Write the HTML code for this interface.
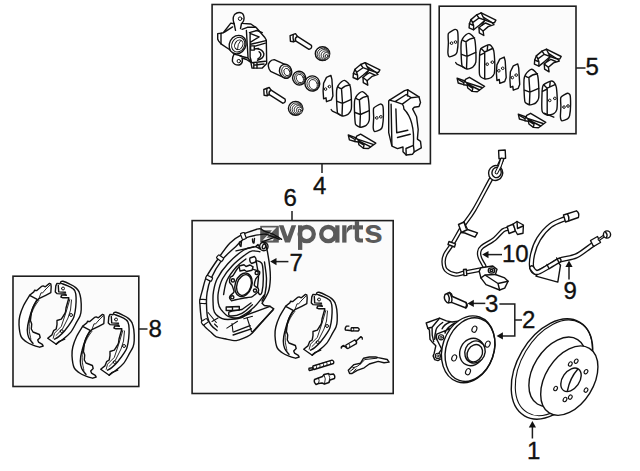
<!DOCTYPE html>
<html><head><meta charset="utf-8"><style>
html,body{margin:0;padding:0;background:#fff;width:640px;height:471px;overflow:hidden}
svg{display:block}
text{font-family:"Liberation Sans",sans-serif}
</style></head><body>
<svg width="640" height="471" viewBox="0 0 640 471">
<g fill="#fbfbfb" stroke="#1e1e1e" stroke-width="1.6">
<rect x="212.1" y="4.5" width="218.3" height="159.2"/>
<rect x="439.2" y="6.2" width="136.8" height="127.5"/>
<rect x="192.1" y="220.6" width="201.1" height="172.9"/>
<rect x="13" y="276.2" width="125.8" height="110.3"/>
</g>
<g stroke="#1e1e1e" stroke-width="1.5" fill="none">
<path d="M322 164V173"/>
<path d="M576 68H585.5"/>
<path d="M292 211V220.5"/>
<path d="M139 329H147.5"/>
<path d="M276 261.6H288.4"/>
<path d="M488 254.6H502"/>
<path d="M569 266V279.4"/>
<path d="M473 303.4H485.3"/>
<path d="M499.4 304H514.8V335.9H502"/>
<path d="M514.8 320H522"/>
<path d="M532.4 427V438.5"/>
</g>
<g fill="#111">
<path d="M270.2 261.6L276.5 258L276.5 265.2Z"/>
<path d="M482.2 254.6L488.5 251L488.5 258.2Z"/>
<path d="M569 260.6L565.4 267L572.6 267Z"/>
<path d="M467.5 303.4L473.8 299.8L473.8 307Z"/>
<path d="M496.6 335.9L502.9 332.3L502.9 339.5Z"/>
<path d="M532.4 421.1L528.8 427.5L536 427.5Z"/>
</g>
<g fill="#5a5a5a">
<rect x="260.2" y="225.8" width="18.6" height="16.8"/>
<path d="M278.8,225.3 L283.5,225.3 L287.5,236.5 L291.5,225.3 L296.2,225.3 L290,242.6 L285,242.6 Z"/>
<rect x="298" y="225.3" width="4.3" height="24.6"/>
<circle cx="306.7" cy="234.1" r="7.1" fill="none" stroke="#5a5a5a" stroke-width="4.3"/>
<circle cx="328.3" cy="234.1" r="7.1" fill="none" stroke="#5a5a5a" stroke-width="4.3"/>
<rect x="335.2" y="225.3" width="4.3" height="17.3"/>
<rect x="342.2" y="225.3" width="4.3" height="17.3"/>
<path d="M346.5,231 Q347,224.8 352.3,224.8 L352.3,229.2 Q348.5,229.2 346.5,234 Z"/>
<path d="M354.8,220.9 L359.1,220.9 L359.1,237 Q359.1,238.5 361,238.5 L363,238.5 L363,242.6 L360,242.6 Q354.8,242.6 354.8,237.5 Z"/>
<rect x="352.6" y="225.3" width="10.4" height="4.2"/>
<text x="364" y="242.8" font-size="34" font-weight="bold" font-family="Liberation Sans">s</text>
</g>
<path d="M262,227.6 L276.5,227.6 L266.5,237.8 L274,237.8 L273,240.5 L262.5,240.5 L272,230.2 L262,230.2 Z" fill="#fff" fill-opacity="0.92"/>
<g id="parts" fill="#fff" stroke="#111" stroke-width="1.4" stroke-linejoin="round" stroke-linecap="round">
<ellipse cx="322.5" cy="53.7" rx="7.2" ry="6.9"/>
<ellipse stroke-width="0.85" cx="323.3" cy="54.2" rx="6.2" ry="6.0"/>
<ellipse stroke-width="0.85" cx="324.2" cy="54.7" rx="5.25" ry="5.2"/>
<ellipse stroke-width="0.85" cx="325.3" cy="55.2" rx="4.2" ry="4.3"/>
<ellipse stroke-width="0.85" cx="326.4" cy="55.7" rx="3.1" ry="3.3"/>
<circle fill="none" stroke-width="1" cx="326.6" cy="56.1" r="1.5"/>
<ellipse cx="295.6" cy="108.3" rx="7.2" ry="6.9"/>
<ellipse stroke-width="0.85" cx="296.4" cy="108.8" rx="6.2" ry="6.0"/>
<ellipse stroke-width="0.85" cx="297.4" cy="109.3" rx="5.25" ry="5.2"/>
<ellipse stroke-width="0.85" cx="298.4" cy="109.8" rx="4.2" ry="4.3"/>
<ellipse stroke-width="0.85" cx="299.5" cy="110.3" rx="3.1" ry="3.3"/>
<circle fill="none" stroke-width="1" cx="299.7" cy="110.7" r="1.5"/>
<path fill="none" stroke-width="1.4" d="M281.5,239.3 C280.6,238.7 275.4,235.2 273.5,234.3 C271.6,233.4 266.4,232.0 264.9,231.4 C263.4,230.8 261.4,229.2 260.5,228.9 C259.6,228.6 259.1,228.5 256.9,229.2 C254.7,229.9 244.9,233.0 241.8,234.6 C238.7,236.2 232.5,240.5 230.0,243.0 C227.5,245.5 222.7,252.1 220.0,256.0 C217.3,259.9 208.7,272.5 206.6,276.5 C204.5,280.5 203.2,287.5 202.4,290.3 C201.6,293.1 200.1,297.7 199.9,300.2 C199.7,302.7 200.3,309.5 200.5,312.0 C200.7,314.5 201.4,319.6 201.9,321.3 C202.4,323.0 203.9,325.6 205.0,326.9 C206.1,328.2 210.0,331.3 211.3,332.5 C212.6,333.7 214.7,336.2 216.3,336.9 C217.9,337.6 222.7,338.4 225.0,338.8 C227.3,339.2 233.4,341.0 236.3,340.6 C239.2,340.2 247.0,337.2 250.0,335.0 C253.0,332.8 259.2,325.1 262.0,322.0 C264.8,318.9 272.4,310.3 273.8,308.8 L270,306.3 L264.3,305.5 L262,303.3  C263.1,301.4 267.0,295.8 268.4,291.8 C269.8,287.8 270.1,283.3 270.3,279.1 C270.5,274.9 270.2,270.9 269.7,266.4 C269.2,261.9 267.9,254.4 267.5,252.0 L265.5,244 L262,241.9 L277.2,236.4 Z"/>
<path fill="none" d="M279.3,239.3 C278.1,238.8 274.3,237.2 272.1,236.4 C269.9,235.6 268.4,234.6 266.3,234.3 C264.2,234.0 263.3,233.9 259.8,234.6 C256.3,235.2 249.7,236.0 245.4,238.2 C241.1,240.4 238.2,244.3 234.2,248.0 C230.2,251.7 225.4,255.5 221.5,260.6 C217.6,265.7 213.3,273.4 210.9,278.7 C208.5,284.0 207.8,288.3 207.1,292.5 C206.4,296.7 206.4,299.9 206.5,304.0 C206.6,308.1 206.8,313.5 207.5,317.0 C208.2,320.5 209.4,322.8 211.0,325.0 C212.6,327.2 216.0,329.6 217.0,330.5"/>
<path stroke-width="1.2" d="M244.1,232.5 C243.8,232.2 240.6,233.4 240.5,233.8 C240.4,234.1 242.3,239.4 242.6,239.6 C242.9,239.8 246.1,238.7 246.2,238.3 C246.2,237.9 244.3,232.7 244.1,232.5Z"/>
<path stroke-width="1.2" d="M218.9,254.8 C218.5,254.7 216.4,257.4 216.5,257.8 C216.6,258.1 221.0,261.6 221.3,261.6 C221.7,261.6 223.8,259.0 223.7,258.6 C223.6,258.3 219.2,254.8 218.9,254.8Z"/>
<path stroke-width="1.2" d="M207.1,275.3 C206.7,275.3 205.3,278.4 205.5,278.7 C205.7,279.0 210.7,281.3 211.0,281.3 C211.4,281.3 212.8,278.2 212.6,277.9 C212.4,277.6 207.4,275.2 207.1,275.3Z"/>
<path stroke-width="1.2" d="M200.0,299.4 C199.7,299.6 199.5,303.0 199.8,303.2 C200.1,303.4 205.7,303.7 206.0,303.5 C206.3,303.4 206.5,299.9 206.2,299.7 C205.9,299.5 200.3,299.2 200.0,299.4Z"/>
<path stroke-width="1.2" d="M201.2,321.9 C201.0,322.2 202.9,325.1 203.3,325.1 C203.6,325.0 208.3,322.0 208.4,321.6 C208.6,321.3 206.7,318.5 206.3,318.5 C206.0,318.5 201.3,321.6 201.2,321.9Z"/>
<path fill="none" d="M239.5,242 Q239.5,246.5 241,246.5 L241.5,241 M252.5,239 Q252.5,243.5 254,243 L254.5,238.5 M236,250.9 L254,246.9"/>
<path fill="none" d="M255.7,246.6 C253.7,247.2 248.5,247.1 243.8,250.0 C239.2,252.9 232.2,259.0 227.8,263.8 C223.4,268.6 219.6,274.1 217.2,278.7 C214.8,283.3 214.2,287.3 213.5,291.4 C212.8,295.4 212.9,299.6 213.1,303.0 C213.2,306.4 212.9,309.5 214.4,312.1 C215.9,314.7 219.4,317.4 222.2,318.6 C225.0,319.8 227.9,319.6 231.4,319.3 C234.9,319.0 239.7,318.4 243.0,317.0 C246.3,315.6 249.8,311.8 251.1,310.7"/>
<path fill="none" d="M259.9,251.7 C258.6,251.6 254.6,250.5 252.3,250.9 C250.0,251.3 249.3,251.7 245.9,254.2 C242.5,256.7 236.0,261.8 232.1,265.9 C228.2,270.0 224.8,274.3 222.5,278.7 C220.2,283.1 219.0,288.4 218.3,292.5 C217.6,296.6 217.9,300.2 218.3,303.0 C218.7,305.8 219.2,307.1 220.9,309.4 C222.7,311.7 225.7,315.4 228.8,316.7 C231.9,318.0 235.2,318.8 239.3,317.3 C243.5,315.8 249.5,311.2 253.7,307.5 C257.9,303.8 262.5,297.1 264.3,295.0"/>
<path fill="none" d="M245.9,259.0 C244.3,260.3 239.5,263.4 236.3,267.0 C233.1,270.6 228.9,276.2 226.8,280.8 C224.7,285.4 224.1,292.3 223.6,294.6"/>
<path fill="none" d="M256.0,260.5 C257.0,261.1 260.8,260.7 262.0,263.8 C263.2,266.9 263.3,274.4 263.3,279.1 C263.3,283.8 262.6,289.2 262.0,291.8 C261.4,294.4 260.2,295.0 259.5,294.4 C258.8,293.8 257.8,291.1 257.6,288.0 C257.4,284.9 258.6,279.7 258.5,276.0 C258.4,272.3 257.4,268.6 257.0,266.0 C256.6,263.4 256.2,261.4 256.0,260.5"/>
<path fill="none" d="M264.5,262.0 C264.8,264.8 266.4,273.7 266.5,279.0 C266.6,284.3 265.8,290.3 265.0,294.0 C264.2,297.7 262.5,299.8 262.0,301.0"/>
<path d="M239.1,267.0 C240.7,266.4 250.4,268.6 251.8,268.9 C253.2,269.2 255.4,270.0 256.0,270.2 C256.6,270.4 259.2,271.2 259.5,271.5 C259.8,271.8 259.6,273.6 259.5,274.0 C259.4,274.4 258.5,275.4 258.2,275.8 C257.9,276.2 256.0,278.3 255.7,279.1 C255.4,279.9 254.2,284.7 254.4,285.5 C254.6,286.3 257.9,288.0 258.2,288.5 C258.5,289.0 258.4,291.1 258.2,291.5 C258.0,291.9 256.7,293.1 256.2,293.5 C255.7,293.9 252.9,296.5 251.8,296.9 C250.7,297.3 244.3,297.9 242.9,298.2 C241.5,298.5 235.5,299.8 234.6,300.0 C233.7,300.2 231.9,301.0 231.5,300.8 C231.1,300.6 229.7,298.4 229.6,298.0 C229.5,297.6 230.1,296.0 230.5,295.5 C230.9,295.0 233.9,292.6 234.0,291.8 C234.1,291.0 232.5,286.3 232.1,285.5 C231.7,284.7 229.8,283.0 229.6,282.3 C229.4,281.6 229.9,278.1 230.2,277.5 C230.5,276.9 232.3,276.4 233.0,275.5 C233.7,274.6 237.5,267.6 239.1,267.0Z"/>
<ellipse cx="243.5" cy="284.8" rx="8.3" ry="12.1" transform="rotate(18 243.5 284.8)"/>
<ellipse fill="none" cx="244" cy="285" rx="7" ry="10.6" transform="rotate(18 244 285)"/>
<circle fill="none" cx="232.9" cy="280.4" r="1.6"/>
<circle fill="none" cx="256.7" cy="272.9" r="1.6"/>
<circle fill="none" cx="255" cy="290.6" r="1.6"/>
<circle fill="none" cx="232.3" cy="297.3" r="1.6"/>
<path d="M239.1,266 L244,264.8 L246,266.5 L250,265 L253.1,266.8 L252,270.2 L246.5,271.5 L244.5,270 L240,271 Z"/>
<path d="M250,258 L254.5,256.5 Q257,258.5 255.5,262 L251.5,263.5 Q249,261.5 250,258 Z"/>
<path d="M226.2,307 L239.3,306.5 L239.3,310.1 L226.2,310.5 Z M232.5,306.7 L232.5,310.3"/>
<path fill="none" d="M228.8,312.1 C229.0,312.8 227.9,315.8 230.1,316.0 C232.3,316.2 238.2,315.3 241.9,313.4 C245.6,311.5 250.7,306.2 252.4,304.8 M228.8,312.1 L232,311 L242,309.5 L251,303"/>
<path fill="none" stroke-width="1.1" d="M208.1,312.5 L216.3,322.5 M212,321.5 L218,318 M214.5,324 L217.5,327 M226.9,328.1 L237.5,321.3 M232,323.5 L233,332 M243.8,318.8 L252.5,316.3 M247,317.5 L251.5,331.5"/>
<path fill="none" d="M241.3,316.9 L270,306.3 M233.8,331.9 L250,325.6 M233.1,335 L251.3,328.8 M252.5,331.9 L273,310"/>
<circle fill="none" cx="263.8" cy="246.5" r="4.2"/><ellipse fill="none" cx="264" cy="246.5" rx="1.6" ry="2.4" transform="rotate(20 264 246.5)"/>
<path fill="none" d="M255.7,246.6 L258,244.5 L260.5,249 Z"/>
<path d="M29.6,295.3 C28.6,297.0 25.2,302.1 23.6,305.5 C22.0,308.9 20.6,312.8 19.8,316.0 C19.0,319.2 18.8,321.3 19.0,324.7 C19.2,328.1 19.9,333.8 21.1,336.6 C22.3,339.4 24.2,340.3 26.2,341.7 C28.2,343.1 30.7,344.2 33.0,345.1 C35.3,346.0 38.7,346.9 39.8,347.2 L43.2,346 L42.3,344.3 L38.5,342.1 L37.7,340 L40.2,337.5 L39.4,334.5 L33,332 L31.3,329 L31.7,323.9 L30.4,320.5  C30.7,318.8 31.0,313.2 32.0,310.0 C33.0,306.8 35.7,302.7 36.4,301.2 L38.9,298.7 L45.7,295.3 L50.8,292.7 L51.2,286.8 L50.8,283.8 L49.5,283.4 L45.3,286.8 L43.2,285.9 L41.5,286.4 L36.8,290.6 L34.7,290.2 L33.8,291.9 Z"/>
<path fill="none" d="M29.6,295.3 L37.2,299.3 M37.2,299.5 C36.5,300.8 34.4,303.8 33.0,307.2 C31.6,310.6 29.8,316.2 28.9,320.0 C27.9,323.8 27.3,327.1 27.3,330.0 C27.3,332.9 27.8,335.3 28.7,337.5 C29.6,339.7 32.3,342.4 33.0,343.4"/>
<path fill="none" stroke-width="0.9" d="M38.9,300.4 C38.1,301.5 35.8,304.3 34.3,307.2 C32.8,310.1 30.9,314.4 30.0,318.0 C29.1,321.6 29.1,325.5 29.2,329.0 C29.3,332.5 30.6,337.5 30.9,339.2 M45.7,289.3 L42.5,293 L41,292.8 L38.9,298.7 M50,285.1 L45.7,289.3"/>
<path d="M60.9,281.7 C61.2,281.6 61.5,280.9 63.0,281.3 C64.5,281.7 67.7,283.1 69.8,284.2 C71.9,285.2 74.2,286.3 75.7,287.6 C77.2,288.9 78.2,290.0 79.1,291.9 C79.9,293.8 80.4,295.7 80.8,298.7 C81.2,301.7 81.3,306.8 81.2,309.7 C81.1,312.6 80.8,313.9 80.0,316.0 C79.2,318.1 78.2,319.5 76.6,322.2 C75.0,324.9 72.9,329.6 70.6,332.4 C68.3,335.2 65.3,337.4 63.0,339.2 C60.7,341.0 58.0,342.7 57.0,343.4 L56.2,344.3 L47.7,338.3 L51.9,334.9 L53.6,330.7 L56.2,329 L57,324.7 L57,320.5 L61.3,319.2 L64.3,314.5 L65.5,312 L66,308 L68.9,297.8 L63,297.8 L60.9,297 L61.7,294.9 L66.4,295.3 L65.5,294 L57,293.6 L55.3,291.9 L55.8,285.9 L57,283.4 L60,283.8 Z"/>
<path fill="none" d="M61.3,283.4 C62.8,284.0 68.3,285.9 70.6,287.2 C72.9,288.5 74.0,289.2 74.9,291.0 C75.8,292.8 76.0,295.1 76.1,297.8 C76.2,300.5 76.0,304.1 75.7,307.2 C75.4,310.3 74.7,314.1 74.0,316.5 C73.3,318.9 73.0,318.9 71.5,321.3 C70.0,323.7 66.8,328.1 64.7,330.7 C62.6,333.2 60.4,335.2 58.7,336.6 C57.0,338.0 55.2,338.8 54.5,339.2 M58.3,285.5 L58.7,291.9 L65.5,292.3 M56.2,344.3 L58.7,341.7 L64.7,339.2"/>
<path fill="none" stroke-width="0.9" d="M69.8,299.5 L66,312.3 L61.3,326.4 L54.5,333.2 L53.2,338.3 M71.5,300 L70.5,310 L68,318 L62.5,329 L56,335.5"/>
<path fill="none" stroke-width="1" d="M61.5,288.5 A1.5 1.5 0 1 0 64.5,288.5 A1.5 1.5 0 1 0 61.5,288.5"/>
<path fill="none" stroke-width="1" d="M69.5,315.0 A1.5 1.5 0 1 0 72.5,315.0 A1.5 1.5 0 1 0 69.5,315.0"/>
<path fill="none" stroke-width="1" d="M60.2,331.1 A1.5 1.5 0 1 0 63.2,331.1 A1.5 1.5 0 1 0 60.2,331.1"/>
<path d="M285.6,306.3 C284.6,308.0 281.2,313.1 279.6,316.5 C278.0,319.9 276.6,323.8 275.8,327.0 C275.0,330.2 274.8,332.3 275.0,335.7 C275.2,339.1 275.9,344.8 277.1,347.6 C278.3,350.4 280.2,351.3 282.2,352.7 C284.2,354.1 286.7,355.2 289.0,356.1 C291.3,357.0 294.7,357.9 295.8,358.2 L299.2,357.0 L298.3,355.3 L294.5,353.1 L293.7,351.0 L296.2,348.5 L295.4,345.5 L289.0,343.0 L287.3,340.0 L287.7,334.9 L286.4,331.5  C286.7,329.8 287.0,324.2 288.0,321.0 C289.0,317.8 291.7,313.7 292.4,312.2 L294.9,309.7 L301.7,306.3 L306.8,303.7 L307.2,297.8 L306.8,294.8 L305.5,294.4 L301.3,297.8 L299.2,296.9 L297.5,297.4 L292.8,301.6 L290.7,301.2 L289.8,302.9 Z"/>
<path fill="none" d="M285.6,306.3 L293.2,310.3 M293.2,310.5 C292.5,311.8 290.4,314.8 289.0,318.2 C287.6,321.6 285.8,327.2 284.9,331.0 C283.9,334.8 283.3,338.1 283.3,341.0 C283.3,343.9 283.8,346.3 284.7,348.5 C285.6,350.7 288.3,353.4 289.0,354.4"/>
<path fill="none" stroke-width="0.9" d="M294.9,311.4 C294.1,312.5 291.8,315.3 290.3,318.2 C288.8,321.1 286.9,325.4 286.0,329.0 C285.1,332.6 285.1,336.5 285.2,340.0 C285.3,343.5 286.6,348.5 286.9,350.2 M301.7,300.3 L298.5,304.0 L297.0,303.8 L294.9,309.7 M306.0,296.1 L301.7,300.3"/>
<path d="M316.9,292.7 C317.2,292.6 317.5,291.9 319.0,292.3 C320.5,292.7 323.7,294.1 325.8,295.2 C327.9,296.2 330.2,297.3 331.7,298.6 C333.2,299.9 334.2,301.0 335.1,302.9 C335.9,304.8 336.4,306.7 336.8,309.7 C337.2,312.7 337.3,317.8 337.2,320.7 C337.1,323.6 336.8,324.9 336.0,327.0 C335.2,329.1 334.2,330.5 332.6,333.2 C331.0,335.9 328.9,340.6 326.6,343.4 C324.3,346.2 321.3,348.4 319.0,350.2 C316.7,352.0 314.0,353.7 313.0,354.4 L312.2,355.3 L303.7,349.3 L307.9,345.9 L309.6,341.7 L312.2,340.0 L313.0,335.7 L313.0,331.5 L317.3,330.2 L320.3,325.5 L321.5,323.0 L322.0,319.0 L324.9,308.8 L319.0,308.8 L316.9,308.0 L317.7,305.9 L322.4,306.3 L321.5,305.0 L313.0,304.6 L311.3,302.9 L311.8,296.9 L313.0,294.4 L316.0,294.8 Z"/>
<path fill="none" d="M317.3,294.4 C318.8,295.0 324.3,296.9 326.6,298.2 C328.9,299.5 330.0,300.2 330.9,302.0 C331.8,303.8 332.0,306.1 332.1,308.8 C332.2,311.5 332.0,315.1 331.7,318.2 C331.4,321.3 330.7,325.1 330.0,327.5 C329.3,329.9 329.0,329.9 327.5,332.3 C326.0,334.7 322.8,339.1 320.7,341.7 C318.6,344.2 316.4,346.2 314.7,347.6 C313.0,349.0 311.2,349.8 310.5,350.2 M314.3,296.5 L314.7,302.9 L321.5,303.3 M312.2,355.3 L314.7,352.7 L320.7,350.2"/>
<path fill="none" stroke-width="0.9" d="M325.8,310.5 L322.0,323.3 L317.3,337.4 L310.5,344.2 L309.2,349.3 M327.5,311.0 L326.5,321.0 L324.0,329.0 L318.5,340.0 L312.0,346.5"/>
<path fill="none" stroke-width="1" d="M317.5,299.5 A1.5 1.5 0 1 0 320.5,299.5 A1.5 1.5 0 1 0 317.5,299.5"/>
<path fill="none" stroke-width="1" d="M325.5,326.0 A1.5 1.5 0 1 0 328.5,326.0 A1.5 1.5 0 1 0 325.5,326.0"/>
<path fill="none" stroke-width="1" d="M316.2,342.1 A1.5 1.5 0 1 0 319.2,342.1 A1.5 1.5 0 1 0 316.2,342.1"/>
<path d="M82.6,326.3 C81.6,328.0 78.2,333.1 76.6,336.5 C75.0,339.9 73.6,343.8 72.8,347.0 C72.0,350.2 71.8,352.3 72.0,355.7 C72.2,359.1 72.9,364.8 74.1,367.6 C75.3,370.4 77.2,371.3 79.2,372.7 C81.2,374.1 83.7,375.2 86.0,376.1 C88.3,377.0 91.7,377.9 92.8,378.2 L96.2,377.0 L95.3,375.3 L91.5,373.1 L90.7,371.0 L93.2,368.5 L92.4,365.5 L86.0,363.0 L84.3,360.0 L84.7,354.9 L83.4,351.5  C83.7,349.8 84.0,344.2 85.0,341.0 C86.0,337.8 88.7,333.7 89.4,332.2 L91.9,329.7 L98.7,326.3 L103.8,323.7 L104.2,317.8 L103.8,314.8 L102.5,314.4 L98.3,317.8 L96.2,316.9 L94.5,317.4 L89.8,321.6 L87.7,321.2 L86.8,322.9 Z"/>
<path fill="none" d="M82.6,326.3 L90.2,330.3 M90.2,330.5 C89.5,331.8 87.4,334.8 86.0,338.2 C84.6,341.6 82.8,347.2 81.9,351.0 C80.9,354.8 80.3,358.1 80.3,361.0 C80.3,363.9 80.8,366.3 81.7,368.5 C82.6,370.7 85.3,373.4 86.0,374.4"/>
<path fill="none" stroke-width="0.9" d="M91.9,331.4 C91.1,332.5 88.8,335.3 87.3,338.2 C85.8,341.1 83.9,345.4 83.0,349.0 C82.1,352.6 82.1,356.5 82.2,360.0 C82.3,363.5 83.6,368.5 83.9,370.2 M98.7,320.3 L95.5,324.0 L94.0,323.8 L91.9,329.7 M103.0,316.1 L98.7,320.3"/>
<path d="M113.9,312.7 C114.2,312.6 114.5,311.9 116.0,312.3 C117.5,312.7 120.7,314.1 122.8,315.2 C124.9,316.2 127.2,317.3 128.7,318.6 C130.2,319.9 131.2,321.0 132.1,322.9 C132.9,324.8 133.4,326.7 133.8,329.7 C134.2,332.7 134.3,337.8 134.2,340.7 C134.1,343.6 133.8,344.9 133.0,347.0 C132.2,349.1 131.2,350.5 129.6,353.2 C128.0,355.9 125.9,360.6 123.6,363.4 C121.3,366.2 118.3,368.4 116.0,370.2 C113.7,372.0 111.0,373.7 110.0,374.4 L109.2,375.3 L100.7,369.3 L104.9,365.9 L106.6,361.7 L109.2,360.0 L110.0,355.7 L110.0,351.5 L114.3,350.2 L117.3,345.5 L118.5,343.0 L119.0,339.0 L121.9,328.8 L116.0,328.8 L113.9,328.0 L114.7,325.9 L119.4,326.3 L118.5,325.0 L110.0,324.6 L108.3,322.9 L108.8,316.9 L110.0,314.4 L113.0,314.8 Z"/>
<path fill="none" d="M114.3,314.4 C115.8,315.0 121.3,316.9 123.6,318.2 C125.9,319.5 127.0,320.2 127.9,322.0 C128.8,323.8 129.0,326.1 129.1,328.8 C129.2,331.5 129.0,335.1 128.7,338.2 C128.4,341.3 127.7,345.1 127.0,347.5 C126.3,349.9 126.0,349.9 124.5,352.3 C123.0,354.7 119.8,359.1 117.7,361.7 C115.6,364.2 113.4,366.2 111.7,367.6 C110.0,369.0 108.2,369.8 107.5,370.2 M111.3,316.5 L111.7,322.9 L118.5,323.3 M109.2,375.3 L111.7,372.7 L117.7,370.2"/>
<path fill="none" stroke-width="0.9" d="M122.8,330.5 L119.0,343.3 L114.3,357.4 L107.5,364.2 L106.2,369.3 M124.5,331.0 L123.5,341.0 L121.0,349.0 L115.5,360.0 L109.0,366.5"/>
<path fill="none" stroke-width="1" d="M114.5,319.5 A1.5 1.5 0 1 0 117.5,319.5 A1.5 1.5 0 1 0 114.5,319.5"/>
<path fill="none" stroke-width="1" d="M122.5,346.0 A1.5 1.5 0 1 0 125.5,346.0 A1.5 1.5 0 1 0 122.5,346.0"/>
<path fill="none" stroke-width="1" d="M113.2,362.1 A1.5 1.5 0 1 0 116.2,362.1 A1.5 1.5 0 1 0 113.2,362.1"/>
<path fill="none" d="M348.9,326.1 L346.4,326.1 Q344.5,328.5 345.5,330 L352.1,330.8"/>
<path d="M351.5,327.6 L358,327.8 Q360.3,329 358.2,331 L351.5,330.9 Q350.3,329.3 351.5,327.6 Z"/>
<path fill="none" stroke-width="0.9" d="M353.5,327.8 Q354.3,329.3 353.4,330.9"/>
<path d="M346,345 L354.6,340 Q357.2,341 356.4,343.7 L348,348.5 Q345,348 346,345 Z"/>
<path fill="none" stroke-width="0.9" d="M348.8,343.5 Q350.3,345 349.8,347.3"/>
<path fill="none" d="M346.5,347 L343.2,346 Q341,346.5 341.3,348 M341.3,348 Q342,345.5 344,345.5 M356,341 L361,336.6 Q362.8,337.5 362.3,339.1"/>
<path d="M348.3,370.3 L354.0,364.6 L360.4,363.3 L363.6,358.2 L369.3,357.0 L375.7,357.0 L378.2,357.6 L387.2,359.5 L389.1,362.1 L384.0,362.7 L378.2,361.4 L369.3,364.0 L364.2,367.8 L357.2,370.3 L352.1,373.5 L349.6,373.5Z"/>
<path fill="none" stroke-width="1" d="M360.4,364 L364.9,359.5 L377,358.2 M352.7,367.8 L357,366.5 L360.4,364 M350.5,371 L354.5,368 M353,372.5 L356,369"/>
<path d="M313,366 L332,360.2 Q334.5,361 333.5,363.5 L314,369.5 Q312,368.5 313,366 Z"/>
<path fill="none" stroke-width="0.9" d="M316,365.2 Q317,366.5 316.5,368.5 M319.5,364.2 Q320.5,365.5 320,367.5 M323,363.1 Q324,364.4 323.5,366.4 M326.5,362 Q327.5,363.3 327,365.3 M330,361 Q331,362.3 330.5,364.3"/>
<path fill="none" d="M313,367.8 L309,368.3 Q308.5,370 309.5,370.5 L312.5,369.8"/>
<path d="M314.5,379.5 L318.5,378 L322.5,376.5 L324,374.5 L328.5,373.5 L330,374.5 L333.5,374 Q335.5,376 334.5,378.5 L330,380 L329,382.5 L324.5,384 L322,383 L318.5,383.5 L316,384.5 Q313.5,382 314.5,379.5 Z"/>
<path fill="none" stroke-width="0.9" d="M318.5,378 Q320,380.5 318.5,383.5 M324,374.5 Q326.5,378.5 324.5,384 M328.5,373.5 Q331,377.5 329,382.5"/>
<path d="M217.7,33.6 L221,33.2 L223.3,32.7 L230.8,23.1 L234.2,23.8 Q232,18.5 234.5,14.5 Q238.5,11 242.5,13.5 Q245,16.5 243.5,21 L242,23.4 L250.9,24 L256.6,28 L264.6,37.2 L266.3,40 L266.7,63.5 L262.3,68.1 L252,68.1 L250.9,62.4 L246.5,59.5 L242,58 Q243.5,63.5 239.2,65 Q234.5,65.5 232.5,61.5 Q232,57.5 234.1,54.1 L229.4,49.5 L221,43.9 L218.7,41.1 L217.7,39.2 Z"/>
<path fill="none" d="M221,33.2 L221,43.9 M232.6,26.9 L224.5,32.2 M234.2,23.8 L235.5,30.4 M241.5,23.5 L240.5,28.5 M242.1,29.4 L247.4,27.3 L255.9,27.3 M249.5,32.6 L257,30.5 L262.3,32.6 M246.4,30.5 L248,57 M250.1,33.7 L250.1,57 L251.7,62.8 L265.4,61.2 M250.6,33.7 L259.1,36.8 L250.6,42.1 M250.6,44.3 L266,40.6 M254.3,46.4 L265.4,43.2 M254.3,49 L258.6,48.5 M240,56 L248,58 L251,62.3 M253.8,63 L253.8,68 M257,62.7 L257,68 M255,65 L264,64 M234.1,54.1 L241.5,56"/>
<path d="M250.6,45.9 L254.3,45.9 L254.3,50.1 L250.6,50.1 Z"/>
<path fill="none" d="M258,49 Q262.3,49.2 263.9,53.8 Q264,58.5 257.5,60.2 M259.1,51.7 Q261.5,53.5 260.7,55.9 Q260,58 258,58.6"/>
<ellipse cx="237.6" cy="44.6" rx="8.2" ry="9.5" transform="rotate(28 237.6 44.6)"/>
<ellipse fill="none" stroke-width="1" cx="238.2" cy="44.7" rx="6.3" ry="7.6" transform="rotate(28 238.2 44.7)"/>
<ellipse fill="none" stroke-width="1" cx="238.8" cy="44.8" rx="3.9" ry="5" transform="rotate(28 238.8 44.8)"/>
<path fill="none" stroke-width="0.9" d="M240.5,40.8 Q237.5,44 237.6,48.5"/>
<circle fill="none" stroke-width="1" cx="240.1" cy="18.7" r="1.8"/>
<circle fill="none" stroke-width="1" cx="238.8" cy="61.1" r="1.7"/>
<path d="M481.2,12.9 L495.9,20.2 L494.5,22.7 L492,22.7 L483.1,17 L476.7,16.5 Z"/>
<path d="M471,19.6 L476.7,14.8 L481.2,12.9 L483.1,17 L485,20.2 L479.3,25.3 L473.6,29.8 L469.1,27.8 L469.4,23.7 Z"/>
<path fill="none" d="M476.7,14.8 L479,18 L485,20.2 M471,19.6 L472.6,22.6 L479,18 M469.4,23.7 L473.6,25.5 L473.6,29.8 M472.6,22.6 L473.6,25.5"/>
<path d="M485,20.2 L492,22.7 L494,24.7 L488.2,26.6 L483.1,31 L483.8,35.5 L479.3,32.9 L479,27.8 L481.8,25.3 Z"/>
<path fill="none" d="M481.8,25.3 L485.5,23 L490.5,25.2 M479,27.8 L483.1,31"/>
<path d="M546.5,49.2 L561.2,56.5 L559.8,59.0 L557.3,59.0 L548.4,53.3 L542.0,52.8 Z"/>
<path d="M536.3,55.9 L542.0,51.1 L546.5,49.2 L548.4,53.3 L550.3,56.5 L544.6,61.6 L538.9,66.1 L534.4,64.1 L534.7,60.0 Z"/>
<path fill="none" d="M542.0,51.1 L544.3,54.3 L550.3,56.5 M536.3,55.9 L537.9,58.9 L544.3,54.3 M534.7,60.0 L538.9,61.8 L538.9,66.1 M537.9,58.9 L538.9,61.8"/>
<path d="M550.3,56.5 L557.3,59.0 L559.3,61.0 L553.5,62.9 L548.4,67.3 L549.1,71.8 L544.6,69.2 L544.3,64.1 L547.1,61.6 Z"/>
<path fill="none" d="M547.1,61.6 L550.8,59.3 L555.8,61.5 M544.3,64.1 L548.4,67.3"/>
<path d="M365.2,62.6 L379.9,69.9 L378.5,72.4 L376.0,72.4 L367.1,66.7 L360.7,66.2 Z"/>
<path d="M355.0,69.3 L360.7,64.5 L365.2,62.6 L367.1,66.7 L369.0,69.9 L363.3,75.0 L357.6,79.5 L353.1,77.5 L353.4,73.4 Z"/>
<path fill="none" d="M360.7,64.5 L363.0,67.7 L369.0,69.9 M355.0,69.3 L356.6,72.3 L363.0,67.7 M353.4,73.4 L357.6,75.2 L357.6,79.5 M356.6,72.3 L357.6,75.2"/>
<path d="M369.0,69.9 L376.0,72.4 L378.0,74.4 L372.2,76.3 L367.1,80.7 L367.8,85.2 L363.3,82.6 L363.0,77.5 L365.8,75.0 Z"/>
<path fill="none" d="M365.8,75.0 L369.5,72.7 L374.5,74.9 M363.0,77.5 L367.1,80.7"/>
<path d="M457.1,78.2 L464.9,81 L465.5,79.3 L469.4,77.3 L484.6,86.3 L477.3,91.7 L472.2,91.4 L467.7,88 L467.2,85.2 L463.8,84.7 L458.2,83 Z"/>
<path fill="none" d="M465.5,82.1 L481.8,87.5 M464.9,81 L467.5,84 L479.5,90 M458.2,79.3 L463.8,82.7 L464.9,81 M463.8,82.7 L463.8,84.7 M467.5,84 L467.2,85.2 M468.3,85.5 L472.8,88.3 L472.2,91.4"/>
<path d="M518.3,114.2 L526.1,117.0 L526.7,115.3 L530.6,113.3 L545.8,122.3 L538.5,127.7 L533.4,127.4 L528.9,124.0 L528.4,121.2 L525.0,120.7 L519.4,119.0 Z"/>
<path fill="none" d="M526.7,118.1 L543.0,123.5 M526.1,117.0 L528.7,120.0 L540.7,126.0 M519.4,115.3 L525.0,118.7 L526.1,117.0 M525.0,118.7 L525.0,120.7 M528.7,120.0 L528.4,121.2 M529.5,121.5 L534.0,124.3 L533.4,127.4"/>
<path d="M348.3,135.0 L356.1,137.8 L356.7,136.1 L360.6,134.1 L375.8,143.1 L368.5,148.5 L363.4,148.2 L358.9,144.8 L358.4,142.0 L355.0,141.5 L349.4,139.8 Z"/>
<path fill="none" d="M356.7,138.9 L373.0,144.3 M356.1,137.8 L358.7,140.8 L370.7,146.8 M349.4,136.1 L355.0,139.5 L356.1,137.8 M355.0,139.5 L355.0,141.5 M358.7,140.8 L358.4,142.0 M359.5,142.3 L364.0,145.1 L363.4,148.2"/>
<path d="M525.5,74.6 C526.0,73.7 528.3,71.2 528.9,70.7 C529.5,70.2 531.3,69.2 531.9,69.3 C532.5,69.4 534.7,71.1 535.3,71.7 C535.9,72.3 537.4,74.1 537.7,75.6 C538.0,77.1 538.6,84.1 538.7,86.3 C538.8,88.5 539.0,96.3 538.7,98.0 C538.4,99.7 536.6,102.2 535.8,102.9 C535.0,103.6 531.5,105.0 530.4,104.9 C529.3,104.8 525.6,103.6 525.0,102.0 C524.4,100.4 524.1,91.5 524.0,89.3 C523.9,87.0 523.9,81.0 524.0,79.5 C524.1,78.0 525.0,75.5 525.5,74.6Z"/>
<path fill="none" d="M525.5,76 Q527,77.5 528.9,77.6 Q532,74.5 537.5,73.8 M528.9,77.6 L529.9,92.2 L529.4,104.5 M524.5,90.2 L529.9,92.2 L538.7,88.3"/>
<path d="M462.6,38.7 C463.1,37.8 465.4,35.3 466.0,34.8 C466.6,34.3 468.4,33.3 469.0,33.4 C469.6,33.5 471.8,35.2 472.4,35.8 C473.0,36.4 474.5,38.2 474.8,39.7 C475.1,41.2 475.7,48.2 475.8,50.4 C475.9,52.6 476.1,60.4 475.8,62.1 C475.5,63.8 473.7,66.3 472.9,67.0 C472.1,67.7 468.6,69.1 467.5,69.0 C466.4,68.9 462.7,67.7 462.1,66.1 C461.5,64.5 461.2,55.6 461.1,53.4 C461.0,51.1 461.0,45.1 461.1,43.6 C461.2,42.1 462.1,39.6 462.6,38.7Z"/>
<path fill="none" d="M462.6,40.1 Q464.1,41.6 466.0,41.7 Q469.1,38.6 474.6,37.9 M466.0,41.7 L467.0,56.3 L466.5,68.6 M461.6,54.3 L467.0,56.3 L475.8,52.4"/>
<path fill="none" d="M455.7,62.6 L456.9,64.1 L464.5,67.6"/>
<path d="M543.6,84.7 C544.5,83.7 549.7,81.4 550.7,81.1 C551.7,80.8 553.2,81.5 553.8,82.1 C554.4,82.7 555.9,85.5 556.3,87.2 C556.6,88.9 557.2,97.2 557.3,99.4 C557.3,101.6 557.1,108.2 556.8,109.6 C556.4,111.0 554.7,113.1 553.8,113.7 C552.9,114.3 548.9,115.5 547.7,115.2 C546.5,114.9 542.7,113.5 542.1,111.1 C541.5,108.7 542.0,93.9 542.1,91.3 C542.2,88.7 542.7,85.7 543.6,84.7Z"/>
<path fill="none" d="M543.6,84.7 L547.2,88.2 L555,84.7 M550.2,81.6 L549.7,86.7 M547.2,88.2 L547.2,114.7 M542.5,91.3 L547.2,89"/>
<path fill="none" stroke-width="1" d="M548.4,100.4 A1.3 1.3 0 1 0 551.0,100.4 A1.3 1.3 0 1 0 548.4,100.4"/>
<path fill="none" stroke-width="1" d="M553.5,98.4 A1.3 1.3 0 1 0 556.1,98.4 A1.3 1.3 0 1 0 553.5,98.4"/>
<path fill="none" d="M544.1,113.2 L553.8,117.2"/>
<path d="M481.1,48.5 C482.0,47.5 487.2,45.2 488.2,44.9 C489.2,44.6 490.7,45.3 491.3,45.9 C491.9,46.5 493.4,49.3 493.8,51.0 C494.1,52.7 494.7,61.0 494.8,63.2 C494.8,65.4 494.6,72.0 494.3,73.4 C493.9,74.8 492.2,76.9 491.3,77.5 C490.4,78.1 486.4,79.3 485.2,79.0 C484.0,78.7 480.2,77.3 479.6,74.9 C479.0,72.5 479.5,57.7 479.6,55.1 C479.7,52.5 480.2,49.5 481.1,48.5Z"/>
<path fill="none" d="M481.1,48.5 L484.7,52.0 L492.5,48.5 M487.7,45.4 L487.2,50.5 M484.7,52.0 L484.7,78.5 M480.0,55.1 L484.7,52.8"/>
<path fill="none" stroke-width="1" d="M485.9,64.2 A1.3 1.3 0 1 0 488.5,64.2 A1.3 1.3 0 1 0 485.9,64.2"/>
<path fill="none" stroke-width="1" d="M491.0,62.2 A1.3 1.3 0 1 0 493.6,62.2 A1.3 1.3 0 1 0 491.0,62.2"/>
<path d="M560.9,97.4 C561.6,96.1 566.6,93.5 567.5,93.3 C568.4,93.1 569.8,94.2 570.1,95.3 C570.4,96.4 570.6,102.5 570.6,104.5 C570.6,106.5 569.9,114.3 569.6,115.7 C569.3,117.1 568.3,118.3 567.5,118.8 C566.7,119.3 562.6,121.0 561.9,120.8 C561.2,120.6 560.5,118.1 560.4,116.7 C560.3,115.3 560.9,108.4 560.9,106.5 C560.9,104.6 560.2,98.7 560.9,97.4Z"/>
<path fill="none" stroke-width="1" d="M562.7,107.1 A1.3 1.3 0 1 0 565.3,107.1 A1.3 1.3 0 1 0 562.7,107.1"/>
<path fill="none" stroke-width="1" d="M566.7,106.0 A1.3 1.3 0 1 0 569.3,106.0 A1.3 1.3 0 1 0 566.7,106.0"/>
<path d="M448.4,33.5 C449.1,32.2 454.1,29.6 455.0,29.4 C455.9,29.2 457.3,30.3 457.6,31.4 C457.9,32.5 458.1,38.6 458.1,40.6 C458.1,42.6 457.4,50.4 457.1,51.8 C456.8,53.2 455.8,54.4 455.0,54.9 C454.2,55.4 450.1,57.1 449.4,56.9 C448.7,56.7 448.0,54.2 447.9,52.8 C447.8,51.4 448.4,44.5 448.4,42.6 C448.4,40.7 447.7,34.8 448.4,33.5Z"/>
<path fill="none" stroke-width="1" d="M450.2,43.2 A1.3 1.3 0 1 0 452.8,43.2 A1.3 1.3 0 1 0 450.2,43.2"/>
<path fill="none" stroke-width="1" d="M454.2,42.1 A1.3 1.3 0 1 0 456.8,42.1 A1.3 1.3 0 1 0 454.2,42.1"/>
<path d="M510.4,71.7 L513.3,65.9 L517.7,63.9 L518.7,67.8 L519.7,84.4 L518.2,88.3 L513.3,90.2 L512.8,86.3 L510.4,87.3 L509.9,79.5Z"/>
<path fill="none" stroke-width="1" d="M511.0,77.6 A1.3 1.3 0 1 0 513.6,77.6 A1.3 1.3 0 1 0 511.0,77.6"/>
<path fill="none" stroke-width="1" d="M514.9,75.1 A1.3 1.3 0 1 0 517.5,75.1 A1.3 1.3 0 1 0 514.9,75.1"/>
<path d="M496.9,64.9 L499.8,59.1 L504.2,57.1 L505.2,61.0 L506.2,77.6 L504.7,81.5 L499.8,83.4 L499.3,79.5 L496.9,80.5 L496.4,72.7Z"/>
<path fill="none" stroke-width="1" d="M497.5,70.8 A1.3 1.3 0 1 0 500.1,70.8 A1.3 1.3 0 1 0 497.5,70.8"/>
<path fill="none" stroke-width="1" d="M501.4,68.3 A1.3 1.3 0 1 0 504.0,68.3 A1.3 1.3 0 1 0 501.4,68.3"/>
<path d="M338.1,85.7 C338.6,84.8 340.9,82.3 341.5,81.8 C342.1,81.3 343.9,80.3 344.5,80.4 C345.1,80.5 347.3,82.2 347.9,82.8 C348.5,83.4 350.0,85.2 350.3,86.7 C350.6,88.2 351.2,95.2 351.3,97.4 C351.4,99.6 351.6,107.4 351.3,109.1 C351.0,110.8 349.2,113.3 348.4,114.0 C347.6,114.7 344.1,116.1 343.0,116.0 C341.9,115.9 338.2,114.7 337.6,113.1 C337.0,111.5 336.7,102.6 336.6,100.4 C336.5,98.1 336.5,92.1 336.6,90.6 C336.7,89.1 337.6,86.6 338.1,85.7Z"/>
<path fill="none" d="M338.1,87.1 Q339.6,88.6 341.5,88.7 Q344.6,85.6 350.1,84.9 M341.5,88.7 L342.5,103.3 L342.0,115.6 M337.1,101.3 L342.5,103.3 L351.3,99.4"/>
<path fill="none" d="M331.2,109.6 L332.4,111.1 L340.0,114.6"/>
<path d="M356.0,96.9 C356.5,96.0 358.8,93.5 359.4,93.0 C360.0,92.5 361.8,91.5 362.4,91.6 C363.0,91.7 365.2,93.4 365.8,94.0 C366.4,94.6 367.9,96.4 368.2,97.9 C368.5,99.4 369.1,106.4 369.2,108.6 C369.3,110.8 369.5,118.6 369.2,120.3 C368.9,122.0 367.1,124.5 366.3,125.2 C365.5,125.9 362.0,127.3 360.9,127.2 C359.8,127.1 356.1,125.9 355.5,124.3 C354.9,122.7 354.6,113.8 354.5,111.6 C354.4,109.3 354.4,103.3 354.5,101.8 C354.6,100.3 355.5,97.8 356.0,96.9Z"/>
<path fill="none" d="M356.0,98.3 Q357.5,99.8 359.4,99.9 Q362.5,96.8 368.0,96.1 M359.4,99.9 L360.4,114.5 L359.9,126.8 M355.0,112.5 L360.4,114.5 L369.2,110.6"/>
<path d="M373.7,108.2 C374.4,106.9 379.4,104.3 380.3,104.1 C381.2,103.9 382.6,105.0 382.9,106.1 C383.2,107.2 383.4,113.3 383.4,115.3 C383.4,117.3 382.7,125.1 382.4,126.5 C382.1,127.9 381.1,129.1 380.3,129.6 C379.5,130.1 375.4,131.8 374.7,131.6 C374.0,131.4 373.3,128.9 373.2,127.5 C373.1,126.1 373.7,119.2 373.7,117.3 C373.7,115.4 373.0,109.5 373.7,108.2Z"/>
<path fill="none" stroke-width="1" d="M375.5,117.9 A1.3 1.3 0 1 0 378.1,117.9 A1.3 1.3 0 1 0 375.5,117.9"/>
<path fill="none" stroke-width="1" d="M379.5,116.8 A1.3 1.3 0 1 0 382.1,116.8 A1.3 1.3 0 1 0 379.5,116.8"/>
<path d="M323.6,83.2 L326.5,77.4 L330.9,75.4 L331.9,79.3 L332.9,95.9 L331.4,99.8 L326.5,101.7 L326.0,97.8 L323.6,98.8 L323.1,91.0Z"/>
<path fill="none" stroke-width="1" d="M324.2,89.1 A1.3 1.3 0 1 0 326.8,89.1 A1.3 1.3 0 1 0 324.2,89.1"/>
<path fill="none" stroke-width="1" d="M328.1,86.6 A1.3 1.3 0 1 0 330.7,86.6 A1.3 1.3 0 1 0 328.1,86.6"/>
<path d="M274.3,59.6 L286.5,65.2 L285.6,78.4 L270.6,71.3 Q266.5,66 269.6,62 Q271.5,59.5 274.3,59.6 Z"/>
<ellipse cx="285.6" cy="71.3" rx="6" ry="7.1" transform="rotate(-20 285.6 71.3)"/>
<ellipse fill="none" stroke-width="0.8" cx="286.3" cy="71.6" rx="4.5" ry="5.6" transform="rotate(-20 286.3 71.6)"/>
<ellipse fill="none" stroke-width="0.8" cx="286.8" cy="72" rx="2.8" ry="3.8" transform="rotate(-20 286.8 72)"/>
<ellipse cx="299.2" cy="78.1" rx="6.5" ry="6.9" transform="rotate(-20 299.2 78.1)"/>
<ellipse fill="none" stroke-width="0.8" cx="299.6" cy="78.3" rx="5" ry="5.6" transform="rotate(-20 299.6 78.3)"/>
<ellipse fill="none" stroke-width="0.8" cx="299.9" cy="78.5" rx="3.4" ry="4.3" transform="rotate(-20 299.9 78.5)"/>
<ellipse cx="312.3" cy="83.5" rx="7.4" ry="7.6" transform="rotate(-20 312.3 83.5)"/>
<ellipse fill="none" stroke-width="0.8" cx="312.8" cy="84" rx="5.8" ry="6.4" transform="rotate(-20 312.8 84)"/>
<ellipse fill="none" stroke-width="0.8" cx="313.2" cy="84.5" rx="4.1" ry="5.1" transform="rotate(-20 313.2 84.5)"/>
<path fill="none" stroke="#111" stroke-width="4.5" d="M502.0,159.4 C501.6,160.3 500.5,162.7 499.5,165.0 C498.5,167.3 497.4,170.7 496.0,173.0 C494.6,175.3 494.6,172.8 491.0,179.0 C487.4,185.2 478.9,202.0 474.1,210.0 C469.3,218.0 465.8,221.5 462.3,227.0 C458.8,232.5 455.7,238.6 452.9,243.1 C450.1,247.6 447.1,250.8 445.5,254.0 C443.9,257.1 443.5,259.3 443.6,262.0 C443.7,264.7 444.0,267.9 446.0,270.0 C448.0,272.1 452.5,274.0 455.5,274.5 C458.5,275.0 459.8,273.6 464.0,272.8 C468.2,272.0 478.1,270.1 480.9,269.5"/><path fill="none" stroke="#fff" stroke-width="1.9" d="M502.0,159.4 C501.6,160.3 500.5,162.7 499.5,165.0 C498.5,167.3 497.4,170.7 496.0,173.0 C494.6,175.3 494.6,172.8 491.0,179.0 C487.4,185.2 478.9,202.0 474.1,210.0 C469.3,218.0 465.8,221.5 462.3,227.0 C458.8,232.5 455.7,238.6 452.9,243.1 C450.1,247.6 447.1,250.8 445.5,254.0 C443.9,257.1 443.5,259.3 443.6,262.0 C443.7,264.7 444.0,267.9 446.0,270.0 C448.0,272.1 452.5,274.0 455.5,274.5 C458.5,275.0 459.8,273.6 464.0,272.8 C468.2,272.0 478.1,270.1 480.9,269.5"/>
<path d="M498.6,150.5 L505.2,150 L505.6,158.3 L499,158.8 Z"/>
<ellipse cx="495.6" cy="173" rx="7.0" ry="7.5" transform="rotate(20 495.6 173)"/>
<ellipse fill="none" cx="496.6" cy="172.5" rx="4.6" ry="5.2" transform="rotate(20 496.6 172.5)"/>
<path fill="none" stroke-width="3.7" d="M502,159.5 Q500.5,166 496.5,172.5"/><path fill="none" stroke="#fff" stroke-width="1.7" d="M502,159.5 Q500.5,166 496.5,172.5"/>
<path d="M458.5,224.5 L464,222 L467.5,229.5 L477.5,232.9 L475,237.2 L464.8,233 L461.5,232.5 Z"/>
<path fill="none" d="M464,222 L466,228 M461.5,232.5 L467.5,229.5"/>
<path d="M449,241.5 L455.5,243.8 L454.5,247 L448,244.5 Z"/>
<path d="M463.5,269.5 L466.3,269.2 L466.8,275.4 L464,275.6 Z"/>
<path fill="none" stroke="#111" stroke-width="4.5" d="M484.3,266.0 C483.6,264.7 480.9,260.3 480.0,258.0 C479.1,255.7 478.9,253.8 479.2,252.0 C479.5,250.2 479.4,249.2 482.0,247.0 C484.6,244.8 491.0,241.7 494.5,238.9 C498.0,236.1 500.7,232.1 503.0,230.4 C505.3,228.7 507.2,229.0 508.1,228.7"/><path fill="none" stroke="#fff" stroke-width="1.9" d="M484.3,266.0 C483.6,264.7 480.9,260.3 480.0,258.0 C479.1,255.7 478.9,253.8 479.2,252.0 C479.5,250.2 479.4,249.2 482.0,247.0 C484.6,244.8 491.0,241.7 494.5,238.9 C498.0,236.1 500.7,232.1 503.0,230.4 C505.3,228.7 507.2,229.0 508.1,228.7"/>
<path d="M507.2,226.5 L513.5,224 L515.5,231 L509,233.5 Z"/>
<path d="M513.2,224 L517,221.5 L523.4,225 L523,233.2 L517.5,234.5 L515.5,231 Z"/>
<path fill="none" d="M517,221.5 L517.5,228.5 L523,226"/>
<path d="M480.9,267.7 L492.8,266.0 L497.0,269.4 L495.4,274.5 L504.7,277.9 L508.1,281.3 L504.7,288.1 L499.6,290.0 L486.0,284.7 L480.9,277.9 L479.2,271.1Z"/>
<path fill="none" d="M480.9,277.9 L485,275 L495.4,274.5 M499.6,290 L498,283.5 L508.1,281.3 M485,275 L498,283.5"/>
<ellipse cx="491.5" cy="270.5" rx="3.2" ry="2.6"/><ellipse fill="none" cx="491.5" cy="270.5" rx="1.4" ry="1.1"/>
<path fill="none" stroke="#111" stroke-width="5.3" d="M564.9,218.7 C562.5,219.8 554.9,222.1 550.5,225.5 C546.1,228.9 541.6,234.2 538.6,239.0 C535.6,243.8 533.7,249.5 532.6,254.3 C531.5,259.1 531.1,264.9 531.8,267.9 C532.5,270.9 534.3,272.6 536.9,272.5 C539.5,272.4 543.4,269.5 547.1,267.5 C550.8,265.5 554.2,262.3 559.0,260.4 C563.8,258.5 570.9,258.2 576.0,256.0 C581.1,253.8 586.1,249.3 589.5,247.0 C592.9,244.7 595.2,242.8 596.3,242.0"/><path fill="none" stroke="#fff" stroke-width="2.6999999999999997" d="M564.9,218.7 C562.5,219.8 554.9,222.1 550.5,225.5 C546.1,228.9 541.6,234.2 538.6,239.0 C535.6,243.8 533.7,249.5 532.6,254.3 C531.5,259.1 531.1,264.9 531.8,267.9 C532.5,270.9 534.3,272.6 536.9,272.5 C539.5,272.4 543.4,269.5 547.1,267.5 C550.8,265.5 554.2,262.3 559.0,260.4 C563.8,258.5 570.9,258.2 576.0,256.0 C581.1,253.8 586.1,249.3 589.5,247.0 C592.9,244.7 595.2,242.8 596.3,242.0"/>
<path d="M563.5,215 L576.5,210.8 Q579.8,213 578.4,217.5 L565.5,222 Z"/>
<path fill="none" d="M567.5,214 Q569.5,217 568.8,220.7"/>
<path d="M590.5,240.5 L597.5,236.5 L600.5,242.5 L593.5,246.5 Z"/>
<path fill="none" stroke-width="2.8" d="M599,239.5 L604,236"/><path fill="none" stroke="#fff" stroke-width="0.8" d="M599,239.5 L604,236"/>
<circle cx="607" cy="234.5" r="3.6"/><path fill="none" d="M605.5,232 Q608,234.5 606.5,237.5"/>
<path d="M535.9,276.1 L557.8,282.1 L560.5,265.2 L556.7,260.8 L545,267 Z"/>
<path fill="none" stroke="#111" stroke-width="5.3" d="M531.8,267.9 C532.6,268.7 534.3,272.6 536.9,272.5 C539.5,272.4 543.4,269.5 547.1,267.5 C550.8,265.5 557.0,261.6 559.0,260.4"/><path fill="none" stroke="#fff" stroke-width="2.6999999999999997" d="M531.8,267.9 C532.6,268.7 534.3,272.6 536.9,272.5 C539.5,272.4 543.4,269.5 547.1,267.5 C550.8,265.5 557.0,261.6 559.0,260.4"/>
<path fill="none" d="M556.7,258 L558.9,262.4 M547,264.5 L549,268.5"/>
<path d="M445,294.5 L449.5,292.5 Q452,293.5 452.5,296.5 L466,302.5 Q468.5,305.5 466,308 L451.5,302.3 Q449.5,303 447,302.5 Q443,299 445,294.5 Z"/>
<path fill="none" d="M447.3,293.5 Q450.5,297.5 448.5,302.7 M449.5,292.5 Q453,297.5 451.5,302.3 M466,302.5 Q467.5,305.5 465.5,307.8"/>
<path d="M426.2,323.0 L439.5,318.2 L446.4,320.9 L452.0,322.0 L468.0,320.0 L472.0,325.0 L450.0,372.0 L441.6,358.5 L437.9,360.6 L434.7,359.6 L433.1,355.9 L434.2,353.2 L435.8,345.8 L432.6,342.6 L430.0,339.4 L429.4,329.9 L427.8,328.3Z"/>
<path fill="none" d="M427.8,328.3 L432.1,327.3 L439.5,318.2 M432.1,327.8 Q431.5,335 433.7,341.6 M442.7,322.5 Q436,327 435.8,331 Q434.5,336 434.7,339.4 M450.1,322 Q444,324.5 442.1,328.8 M436.8,334.1 L449.6,328.8 M436.8,334.1 Q435.5,338 437.4,340.5 L441.6,349 L439,353.2 M455,323 Q447,327 445,333"/>
<circle fill="none" stroke-width="1.1" cx="441.1" cy="337.3" r="2.6"/><circle fill="none" stroke-width="0.9" cx="441.1" cy="337.3" r="1.1"/>
<circle fill="none" stroke-width="1.1" cx="437.9" cy="355.9" r="2.6"/><circle fill="none" stroke-width="0.9" cx="437.9" cy="355.9" r="1.1"/>
<ellipse cx="468.2" cy="349.3" rx="25.7" ry="34.2" transform="rotate(19.2 468.2 349.3)"/>
<ellipse fill="none" cx="470" cy="349.6" rx="23.8" ry="32.6" transform="rotate(19.2 470 349.6)"/>
<ellipse cx="472" cy="352" rx="12" ry="14" transform="rotate(25 472 352)"/>
<ellipse cx="475" cy="352" rx="10" ry="11.3" transform="rotate(25 475 352)"/>
<ellipse fill="none" cx="474.8" cy="353.2" rx="7.3" ry="9" transform="rotate(30 474.8 353.2)"/>
<ellipse fill="none" stroke-width="1.1" cx="474.4" cy="329.2" rx="2.3" ry="3.2" transform="rotate(25 474.4 329.2)"/>
<ellipse fill="none" stroke-width="1.1" cx="487.7" cy="344.1" rx="2.3" ry="3.2" transform="rotate(25 487.7 344.1)"/>
<ellipse fill="none" stroke-width="1.1" cx="454.2" cy="357.9" rx="2.3" ry="3.2" transform="rotate(25 454.2 357.9)"/>
<ellipse fill="none" stroke-width="1.1" cx="468" cy="371.7" rx="2.3" ry="3.2" transform="rotate(25 468 371.7)"/>
<ellipse cx="552" cy="369" rx="34.9" ry="54.3" transform="rotate(30.5 552 369)"/>
<ellipse fill="none" stroke-width="1.1" cx="553.8" cy="367.8" rx="32.6" ry="52" transform="rotate(30.5 553.8 367.8)"/>
<ellipse cx="557.5" cy="371.8" rx="24" ry="38" transform="rotate(32 557.5 371.8)"/>
<ellipse cx="569.3" cy="380.6" rx="24" ry="38" transform="rotate(32 569.3 380.6)"/>
<ellipse fill="none" cx="571" cy="379.8" rx="8.5" ry="13" transform="rotate(35 571 379.8)"/>
<path fill="none" d="M577.5,369.5 Q570,378 567.5,390.5"/>
<ellipse fill="none" stroke-width="1.1" cx="570.3" cy="364" rx="1.7" ry="2.3" transform="rotate(30 570.3 364)"/>
<ellipse fill="none" stroke-width="1.1" cx="576.2" cy="361.2" rx="1.7" ry="2.3" transform="rotate(30 576.2 361.2)"/>
<ellipse fill="none" stroke-width="1.1" cx="586" cy="371.7" rx="1.7" ry="2.3" transform="rotate(30 586 371.7)"/>
<ellipse fill="none" stroke-width="1.1" cx="586" cy="390.1" rx="1.7" ry="2.3" transform="rotate(30 586 390.1)"/>
<ellipse fill="none" stroke-width="1.1" cx="570.3" cy="397.1" rx="1.7" ry="2.3" transform="rotate(30 570.3 397.1)"/>
<ellipse fill="none" stroke-width="1.1" cx="565" cy="399.5" rx="1.7" ry="2.3" transform="rotate(30 565 399.5)"/>
<ellipse fill="none" stroke-width="1.1" cx="555.6" cy="388.5" rx="1.7" ry="2.3" transform="rotate(30 555.6 388.5)"/>

<!-- bolts -->
<path d="M290.1,35.6 L295.5,33.6 L297.4,36.3 L311.4,45.3 Q312.5,48.5 309.0,49.3 L295.6,40.8 L293.5,41.8 L290.4,41.3 Z"/>
<path fill="none" d="M293.2,34.6 Q292.6,38.5 293.7,41.6 M295.6,40.8 Q294.5,38.0 297.4,36.3"/>
<path d="M263.8,89.5 L269.2,87.5 L271.1,90.2 L285.1,99.2 Q286.2,102.4 282.7,103.2 L269.3,94.7 L267.2,95.7 L264.1,95.2 Z"/>
<path fill="none" d="M266.9,88.5 Q266.3,92.4 267.4,95.5 M269.3,94.7 Q268.2,91.9 271.1,90.2"/>
<!-- bracket -->
<path d="M389.5,100.1 L404.6,90.6 L407.8,89.8 L419,96.9 L420.5,102.5 L419,106.5 L414.2,107.3 L412.6,108.9 L416.6,116.8 L418.2,129.5 L417.4,139.1 L420.5,141.4 L421.3,147.8 L414.2,151.8 L412.6,154.2 L406.2,155 L403,151.8 L403,147 L397.5,148.6 L391.9,146.2 L388.7,132.7 L388.7,100.9 Z"/>
<path fill="none" d="M395.1,101.7 L406.2,94.5 L411,97.7 L402.3,104.1 Z M389.5,100.1 L395.1,101.7 M391.1,104.1 L391.9,145.4 M395.9,108.9 L396.7,132.7 L407.8,130.3 M397.5,137.5 L410.2,134.3 M402.3,104.1 Q404,106 403.9,108.9 Q415,120 413.4,145.4 L414.2,151.8 M406.2,155 L406,148.5 L413.4,145.4 M407.8,89.8 L407.5,96 M411,97.7 L419,96.9"/>

</g>
<g font-size="24" fill="#111" stroke="#111" stroke-width="0.35">
<text x="313" y="194">4</text>
<text x="585.5" y="74.8">5</text>
<text x="283.5" y="206.3">6</text>
<text x="289.5" y="271.4">7</text>
<text x="148.5" y="337.1">8</text>
<text x="502" y="261.6">10</text>
<text x="563.5" y="299">9</text>
<text x="485" y="311.9">3</text>
<text x="522" y="328.4">2</text>
<text x="527" y="459.1">1</text>
</g>
</svg>
</body></html>
